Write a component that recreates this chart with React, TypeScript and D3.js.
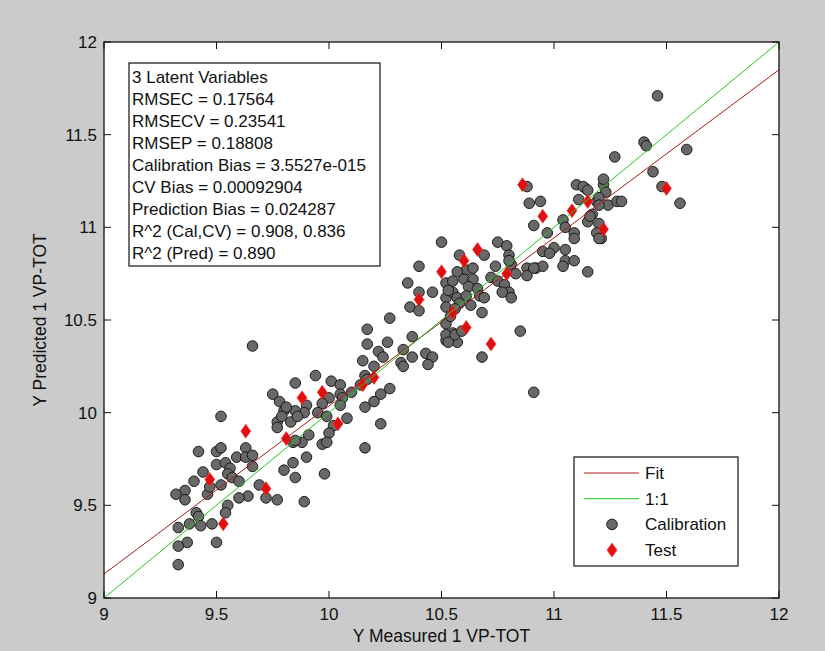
import React from 'react';
import * as d3 from 'd3';

// calibration samples (measured, predicted)
const calX = [
  9.52, 9.75, 9.78, 9.80, 9.77, 9.83, 9.77, 9.85, 9.84, 9.84,
  9.80, 9.85, 9.42, 9.50, 9.52, 9.50, 9.54, 9.56, 9.55, 9.57,
  9.60, 9.52, 9.59, 9.63, 9.63, 9.66, 9.66, 9.44, 9.40, 9.36,
  9.32, 9.36, 9.46, 9.47, 9.69, 9.72, 9.77, 9.64, 9.60, 9.55,
  9.54, 9.41, 9.42, 9.38, 9.43, 9.33, 9.48, 9.37, 9.33, 9.50,
  9.33, 9.66, 9.94, 9.90, 9.98, 9.89, 9.88, 9.97, 10.35, 10.27,
  10.17, 10.17, 10.22, 10.26, 10.24, 10.15, 10.20, 10.37, 10.33, 10.37,
  10.43, 10.46, 10.44, 10.32, 10.33, 10.16, 10.17, 10.14, 10.27, 10.23,
  10.20, 10.16, 10.23, 10.16, 10.01, 10.05, 10.10, 10.05, 10.06, 10.00,
  9.97, 10.05, 9.95, 9.90, 9.89, 9.85, 9.81, 9.79, 9.99, 10.08,
  10.02, 10.00, 9.99, 9.91, 9.85, 9.86, 10.40, 10.46, 10.52, 10.52,
  10.55, 10.52, 10.52, 10.55, 10.36, 10.40, 10.57, 10.40, 10.88, 10.89,
  10.94, 11.10, 11.14, 11.22, 11.23, 11.19, 11.24, 11.11, 10.91, 10.97,
  11.04, 11.05, 11.09, 11.09, 11.15, 11.17, 11.20, 11.19, 11.21, 11.28,
  11.00, 10.95, 10.98, 11.05, 11.05, 11.09, 11.04, 11.15, 10.88, 10.92,
  10.95, 10.88, 10.75, 10.79, 10.80, 10.81, 10.83, 10.74, 10.72, 10.75,
  10.78, 10.80, 10.81, 10.77, 10.69, 10.58, 10.61, 10.64, 10.57, 10.60,
  10.64, 10.62, 10.66, 10.55, 10.53, 10.57, 10.61, 10.67, 10.69, 10.58,
  10.63, 10.68, 10.52, 10.56, 10.54, 10.52, 10.56, 10.53, 10.59, 10.50,
  10.85, 10.68, 10.91, 11.46, 11.40, 11.41, 11.59, 11.27, 11.44, 11.48,
  11.56, 11.22, 11.20, 11.20, 11.30, 11.13, 11.15, 11.16, 11.20, 10.80,
  10.91
];
const calY = [
  9.98, 10.10, 10.06, 10.01, 9.95, 9.95, 9.92, 10.16, 9.84, 9.73,
  9.69, 9.65, 9.79, 9.79, 9.81, 9.72, 9.73, 9.70, 9.67, 9.65,
  9.63, 9.61, 9.76, 9.81, 9.76, 9.77, 9.71, 9.68, 9.63, 9.58,
  9.56, 9.53, 9.56, 9.60, 9.61, 9.54, 9.53, 9.55, 9.54, 9.50,
  9.46, 9.46, 9.44, 9.40, 9.39, 9.38, 9.40, 9.30, 9.28, 9.30,
  9.18, 10.36, 10.20, 9.76, 9.67, 9.52, 9.84, 9.83, 10.70, 10.51,
  10.45, 10.37, 10.33, 10.38, 10.30, 10.28, 10.25, 10.41, 10.34, 10.30,
  10.32, 10.30, 10.26, 10.27, 10.25, 10.20, 10.18, 10.15, 10.13, 10.10,
  10.06, 10.03, 9.94, 9.81, 10.17, 10.15, 10.11, 10.10, 10.08, 10.08,
  10.05, 10.04, 10.00, 10.04, 10.00, 10.01, 10.03, 9.98, 9.98, 9.97,
  9.93, 9.89, 9.84, 9.88, 9.85, 9.98, 10.65, 10.65, 10.70, 10.62,
  10.65, 10.48, 10.39, 10.43, 10.57, 10.55, 10.38, 10.79, 11.22, 11.13,
  11.14, 11.23, 11.21, 11.23, 11.19, 11.14, 11.12, 11.15, 11.01, 10.97,
  11.04, 11.00, 10.97, 10.94, 11.03, 11.07, 11.02, 10.97, 10.94, 11.14,
  10.89, 10.87, 10.86, 10.88, 10.82, 10.82, 10.79, 10.76, 10.78, 10.78,
  10.79, 10.74, 10.92, 10.90, 10.85, 10.80, 10.75, 10.79, 10.73, 10.71,
  10.69, 10.65, 10.62, 10.65, 10.85, 10.85, 10.77, 10.78, 10.76, 10.72,
  10.72, 10.68, 10.67, 10.71, 10.66, 10.62, 10.63, 10.63, 10.62, 10.59,
  10.58, 10.54, 10.57, 10.56, 10.52, 10.42, 10.42, 10.38, 10.44, 10.92,
  10.44, 10.30, 10.11, 11.71, 11.46, 11.44, 11.42, 11.38, 11.30, 11.22,
  11.13, 11.26, 11.16, 11.12, 11.14, 11.22, 11.20, 11.06, 10.94, 10.82,
  10.78
];

// test samples
const testX = [9.63, 9.47, 9.72, 9.53, 9.81, 9.88, 9.97, 10.04, 10.15, 10.20, 10.40, 10.50,
  10.55, 10.60, 10.66, 10.61, 10.72, 10.79, 10.86, 10.95, 11.08, 11.15, 11.22, 11.50];
const testY = [9.90, 9.64, 9.59, 9.40, 9.86, 10.08, 10.11, 9.94, 10.15, 10.19, 10.61, 10.76,
  10.54, 10.82, 10.88, 10.46, 10.37, 10.75, 11.23, 11.06, 11.09, 11.14, 10.99, 11.21];

// fit line end points and 1:1 line
const fitLine = [[9, 9.13], [12, 11.85]];
const oneToOne = [[9, 9], [12, 12]];

const xTicks = [9, 9.5, 10, 10.5, 11, 11.5, 12];
const yTicks = [9, 9.5, 10, 10.5, 11, 11.5, 12];

const statsLines = [
  '3 Latent Variables',
  'RMSEC = 0.17564',
  'RMSECV = 0.23541',
  'RMSEP = 0.18808',
  'Calibration Bias = 3.5527e-015',
  'CV Bias = 0.00092904',
  'Prediction Bias = 0.024287',
  'R^2 (Cal,CV) = 0.908, 0.836',
  'R^2 (Pred) = 0.890'
];

const legendItems = ['Fit', '1:1', 'Calibration', 'Test'];

const font = '"Liberation Sans", Arial, sans-serif';
const red = '#e01010';
const green = '#20c820';
const fs = 17;

function diamond(cx: number, cy: number) {
  const p = d3.path();
  p.moveTo(cx, cy - 7);
  p.lineTo(cx + 5, cy);
  p.lineTo(cx, cy + 7);
  p.lineTo(cx - 5, cy);
  p.closePath();
  return p.toString();
}

export default function App() {
  const width = 825, height = 651;
  const left = 104, right = 779, top = 42, bottom = 598;

  const x = d3.scaleLinear().domain([9, 12]).range([left, right]);
  const y = d3.scaleLinear().domain([9, 12]).range([bottom, top]);

  const line = d3.line<number[]>().x(d => x(d[0])).y(d => y(d[1]));

  const lg = { x: 574, y: 457, w: 164, h: 109 };

  return (
    <svg width={width} height={height} style={{ position: 'absolute', left: 0, top: 0, display: 'block' }}
      fontFamily={font} fill="#111">
      <rect width={width} height={height} fill="#cbcbcb" />
      <rect x={left} y={top} width={right - left} height={bottom - top} fill="#fff" />

      {calX.map((v, i) => (
        <circle key={'c' + i} cx={x(v)} cy={y(calY[i])} r={5.3} fill="#686868" stroke="#111" strokeWidth={0.9} />
      ))}
      {testX.map((v, i) => (
        <path key={'t' + i} d={diamond(x(v), y(testY[i]))} fill={red} stroke="#ff3030" strokeWidth={0.6} />
      ))}

      <path d={line(fitLine) || ''} stroke="#b01818" strokeWidth={1} fill="none" />
      <path d={line(oneToOne) || ''} stroke={green} strokeWidth={1} fill="none" />

      {/* axes box */}
      <rect x={left} y={top} width={right - left} height={bottom - top} fill="none" stroke="#111" strokeWidth={1.3} />
      {xTicks.map(t => (
        <g key={'xt' + t}>
          <line x1={x(t)} x2={x(t)} y1={bottom} y2={bottom - 7} stroke="#111" />
          <line x1={x(t)} x2={x(t)} y1={top} y2={top + 7} stroke="#111" />
          <text x={x(t)} y={bottom + 22} textAnchor="middle" fontSize={fs}>{t}</text>
        </g>
      ))}
      {yTicks.map(t => (
        <g key={'yt' + t}>
          <line x1={left} x2={left + 7} y1={y(t)} y2={y(t)} stroke="#111" />
          <line x1={right} x2={right - 7} y1={y(t)} y2={y(t)} stroke="#111" />
          <text x={left - 7} y={y(t) + 6} textAnchor="end" fontSize={fs}>{t}</text>
        </g>
      ))}

      <text x={(left + right) / 2} y={642} textAnchor="middle" fontSize={17.5}>Y Measured 1 VP-TOT</text>
      <text transform={`translate(46, ${(top + bottom) / 2}) rotate(-90)`} textAnchor="middle" fontSize={17.5}>
        Y Predicted 1 VP-TOT
      </text>

      {/* statistics box */}
      <rect x={129} y={63} width={251} height={203} fill="#fff" stroke="#111" strokeWidth={1.2} />
      {statsLines.map((s, i) => (
        <text key={'s' + i} x={132} y={83 + i * 22} fontSize={fs}>{s}</text>
      ))}

      {/* legend */}
      <rect x={lg.x} y={lg.y} width={lg.w} height={lg.h} fill="#fff" stroke="#111" strokeWidth={1.2} />
      {legendItems.map((name, i) => {
        const cy = lg.y + 16 + i * 25.7;
        return (
          <g key={'l' + i}>
            {i === 0 && <line x1={584} x2={639} y1={cy} y2={cy} stroke="#b01818" />}
            {i === 1 && <line x1={584} x2={639} y1={cy} y2={cy} stroke={green} />}
            {i === 2 && <circle cx={612} cy={cy} r={5.3} fill="#686868" stroke="#111" strokeWidth={0.9} />}
            {i === 3 && <path d={diamond(612, cy)} fill={red} stroke="#ff3030" strokeWidth={0.6} />}
            <text x={645} y={cy + 6} fontSize={fs}>{name}</text>
          </g>
        );
      })}
    </svg>
  );
}
